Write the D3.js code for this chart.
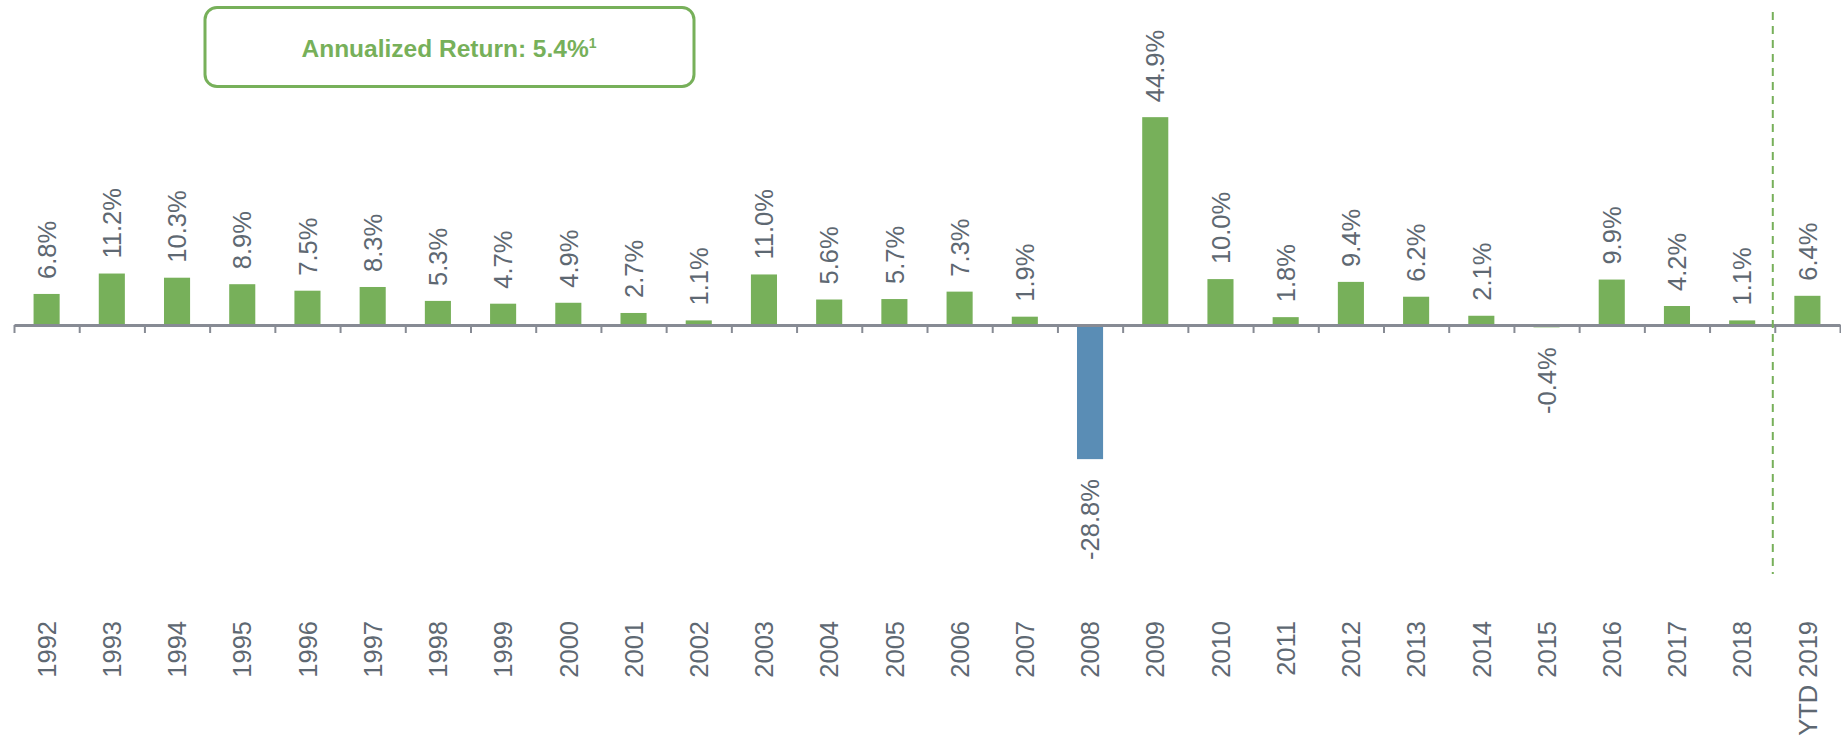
<!DOCTYPE html>
<html>
<head>
<meta charset="utf-8">
<script src="https://cdnjs.cloudflare.com/ajax/libs/d3/7.8.5/d3.min.js"></script>
<style>
  body { margin: 0; background: #fff; }
  svg { display: block; font-family: "Liberation Sans", Arial, sans-serif; }
  .label { fill: #5e6872; font-size: 25.5px; }
  .axis path, .axis line { stroke: #878b94; }
</style>
</head>
<body>
<div id="chart"></div>
<script>
//data
var years = ["1992", "1993", "1994", "1995", "1996", "1997", "1998", "1999", "2000",
  "2001", "2002", "2003", "2004", "2005", "2006", "2007", "2008", "2009", "2010",
  "2011", "2012", "2013", "2014", "2015", "2016", "2017", "2018", "YTD 2019"];
var returns = [6.8, 11.2, 10.3, 8.9, 7.5, 8.3, 5.3, 4.7, 4.9, 2.7, 1.1, 11.0, 5.6, 5.7,
  7.3, 1.9, -28.8, 44.9, 10.0, 1.8, 9.4, 6.2, 2.1, -0.4, 9.9, 4.2, 1.1, 6.4];
var annualized = 5.4;

var dataset = [];
for (var i = 0; i < years.length; i++) {
  dataset.push({year: years[i], value: returns[i]});
}

var width = 1841, height = 741;
var green = "#77b05a", blue = "#5a8db5";

//scales
var xScale = d3.scaleBand()
  .domain(years)
  .range([14, 1840])
  .paddingInner(0.6)
  .paddingOuter(0.3);

var yScale = d3.scaleLinear()
  .domain([-40, 50])
  .range([325.5 + 40 * 4.64, 325.5 - 50 * 4.64]);

// boundaries between categories, used for the tick marks
var edgeScale = d3.scaleLinear()
  .domain([0, years.length])
  .range(xScale.range());

var svg = d3.select("#chart").append("svg")
  .attr("width", width)
  .attr("height", height);

//annualized return box
svg.append("rect")
  .attr("x", 205)
  .attr("y", 7.5)
  .attr("width", 489)
  .attr("height", 79)
  .attr("rx", 12)
  .attr("fill", "none")
  .attr("stroke", green)
  .attr("stroke-width", 3);

var title = svg.append("text")
  .attr("x", 449)
  .attr("y", 57)
  .attr("text-anchor", "middle")
  .attr("fill", green)
  .style("font-weight", "bold")
  .style("font-size", "24.5px");
title.append("tspan").text("Annualized Return: " + annualized.toFixed(1) + "%");
title.append("tspan")
  .attr("dy", -9)
  .style("font-size", "14px")
  .text("1");

//bars
svg.selectAll(".bar")
  .data(dataset)
.enter().append("rect")
  .attr("class", "bar")
  .attr("x", function(d) { return xScale(d.year); })
  .attr("width", xScale.bandwidth())
  .attr("y", function(d) { return yScale(Math.max(0, d.value)); })
  .attr("height", function(d) { return Math.abs(yScale(d.value) - yScale(0)); })
  .attr("fill", function(d) { return d.value < -10 ? blue : green; });

//x axis with ticks on the category edges
var axis = svg.append("g")
  .attr("class", "axis")
  .attr("transform", "translate(0," + (yScale(0) - 0.5) + ")")
  .call(d3.axisBottom(edgeScale)
    .tickValues(d3.range(years.length + 1))
    .tickFormat("")
    .tickSizeInner(8)
    .tickSizeOuter(0));
axis.select(".domain").attr("stroke-width", 3);
axis.selectAll(".tick line").attr("stroke-width", 2);

// dashed divider before the YTD column
var ytdEdge = xScale("YTD 2019") - xScale.step() * xScale.paddingInner() / 2 - 2;
svg.append("line")
  .attr("x1", ytdEdge)
  .attr("x2", ytdEdge)
  .attr("y1", 12)
  .attr("y2", 574)
  .attr("stroke", green)
  .attr("stroke-width", 2)
  .attr("stroke-dasharray", "8,6");

//value labels
svg.selectAll(".value")
  .data(dataset)
.enter().append("text")
  .attr("class", "label value")
  .attr("transform", function(d) {
    var cx = xScale(d.year) + xScale.bandwidth() / 2;
    var y = d.value >= 0 ? yScale(d.value) - 15 : yScale(d.value) + 20;
    return "translate(" + cx + "," + y + ") rotate(-90)";
  })
  .attr("dy", "0.36em")
  .attr("text-anchor", function(d) { return d.value >= 0 ? "start" : "end"; })
  .text(function(d) { return d.value.toFixed(1) + "%"; });

//year labels
svg.selectAll(".year")
  .data(dataset)
.enter().append("text")
  .attr("class", "label year")
  .attr("transform", function(d) {
    return "translate(" + (xScale(d.year) + xScale.bandwidth() / 2) + ",621) rotate(-90)";
  })
  .attr("dy", "0.36em")
  .attr("text-anchor", "end")
  .text(function(d) { return d.year; });
</script>
</body>
</html>
